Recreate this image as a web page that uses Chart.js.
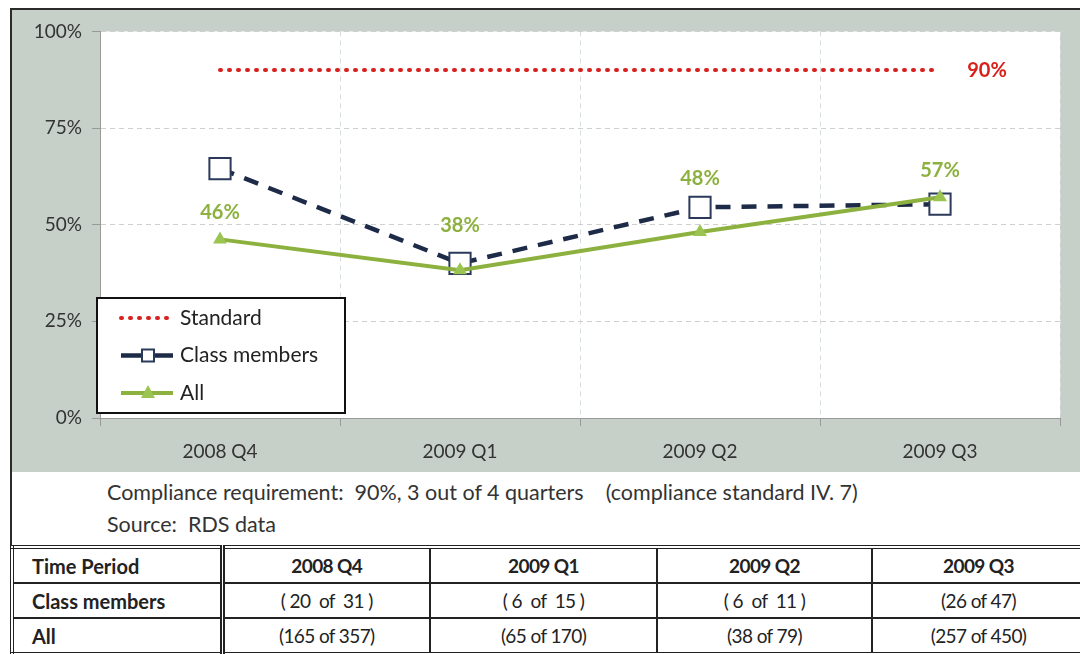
<!DOCTYPE html>
<html>
<head>
<meta charset="utf-8">
<script src="https://cdn.jsdelivr.net/npm/chart.js@4.4.0/dist/chart.umd.min.js"></script>
<style>
html, body { margin:0; padding:0; background:#fff; width:1080px; height:654px; overflow:hidden; font-family: Lato, "Open Sans", sans-serif; color:#222; }
#chartBox { position:absolute; left:10px; top:8px; width:1068px; height:462px; border:2px solid #2b2b2b; background:#c6d0c8; }
#chartWrap { position:relative; width:1068px; height:462px; }
#notes { position:absolute; left:10px; top:472px; width:1080px; height:73px; border-left:2px solid #2b2b2b; background:#fff; }
#notes div { position:absolute; left:95px; font-size:21.5px; color:#333; white-space:pre; }
#tbl { position:absolute; left:10px; top:545px; width:1078px; border-collapse:collapse; border:4px double #222; font-size:19px; letter-spacing:-0.6px; table-layout:fixed; }
#tbl td { border:2px solid #222; height:33px; padding:0; text-align:center; color:#222; white-space:pre; }
#tbl td.first { text-align:left; padding-left:18px; font-weight:bold; font-size:20px; letter-spacing:0; border-right:5px double #222; }
#tbl tr.head td { font-weight:bold; }
</style>
</head>
<body>
<div id="chartBox"><div id="chartWrap"><canvas id="myChart"></canvas></div></div>
<div id="notes">
  <div id="note1" style="top:7px"></div>
  <div id="note2" style="top:39px"></div>
</div>
<table id="tbl">
  <colgroup><col style="width:210px"><col style="width:208px"><col style="width:227px"><col style="width:215px"><col></colgroup>
  <tbody id="tbody"></tbody>
</table>
<script>
// chart data
const quarters = ['2008 Q4', '2009 Q1', '2009 Q2', '2009 Q3'];
const standardPct = [90, 90, 90, 90];
const classPct = [64.5, 40, 54.5, 55.3];
const allPct = [46.2, 38.2, 48.1, 57.1];
const yTicks = [0, 25, 50, 75, 100];

// table below the chart
const classCounts = ['( 20  of  31 )', '( 6  of  15 )', '( 6  of  11 )', '(26 of 47)'];
const allCounts = ['(165 of 357)', '(65 of 170)', '(38 of 79)', '(257 of 450)'];
const noteLines = ['Compliance requirement:  90%, 3 out of 4 quarters    (compliance standard IV. 7)', 'Source:  RDS data'];

document.getElementById('note1').textContent = noteLines[0];
document.getElementById('note2').textContent = noteLines[1];

function row(cls, first, cells) {
  let html = '<tr class="' + cls + '"><td class="first">' + first + '</td>';
  cells.forEach(c => { html += '<td>' + c + '</td>'; });
  return html + '</tr>';
}
document.getElementById('tbody').innerHTML =
  row('head', 'Time Period', quarters) +
  row('', 'Class members', classCounts) +
  row('', 'All', allCounts);

const FONT = 'Lato, "Open Sans", sans-serif';
const green = '#8db13f';
const navy = '#1d2b48';
const red = '#d8201c';

// white plot area on the gray chart background
const plotBg = {
  id: 'plotBg',
  beforeDraw(chart) {
    const a = chart.chartArea, ctx = chart.ctx;
    ctx.save();
    ctx.fillStyle = '#fff';
    ctx.fillRect(a.left, a.top, a.right - a.left, a.bottom - a.top);
    ctx.restore();
  }
};

// value labels for "All" and the standard
const pointLabels = {
  id: 'pointLabels',
  afterDatasetsDraw(chart, args, opts) {
    const ctx = chart.ctx;
    ctx.save();
    ctx.font = 'bold 20px ' + FONT;
    ctx.textAlign = 'center';
    ctx.textBaseline = 'middle';
    ctx.fillStyle = green;
    chart.getDatasetMeta(2).data.forEach((pt, i) => {
      ctx.fillText(Math.round(allPct[i]) + '%', pt.x, pt.y - opts.rise[i]);
    });
    const sm = chart.getDatasetMeta(0).data;
    const last = sm[sm.length - 1];
    ctx.fillStyle = red;
    ctx.fillText(standardPct[standardPct.length - 1] + '%', last.x + 47, last.y);
    ctx.restore();
  }
};

// boxed legend in the lower left corner of the plot
const legendBox = {
  id: 'legendBox',
  afterDraw(chart) {
    const ctx = chart.ctx, a = chart.chartArea;
    const x = a.left - 3, y = a.bottom - 120, w = 248, h = 115;
    ctx.save();
    ctx.fillStyle = '#fff';
    ctx.fillRect(x, y, w, h);
    ctx.lineWidth = 2;
    ctx.strokeStyle = '#111';
    ctx.strokeRect(x, y, w, h);
    chart.data.datasets.forEach((ds, i) => {
      const cy = y + 20 + i * 37.5;
      ctx.save();
      ctx.strokeStyle = ds.borderColor;
      ctx.lineWidth = ds.borderWidth;
      ctx.lineCap = ds.borderCapStyle || 'butt';
      ctx.setLineDash(i === 0 ? ds.borderDash : []);
      ctx.beginPath();
      ctx.moveTo(x + 24, cy);
      ctx.lineTo(x + 76, cy);
      ctx.stroke();
      ctx.restore();
      const mx = x + 51;
      if (ds.pointStyle === 'rect') {
        ctx.fillStyle = '#fff';
        ctx.strokeStyle = ds.pointBorderColor;
        ctx.lineWidth = 2;
        ctx.fillRect(mx - 6, cy - 6, 12, 12);
        ctx.strokeRect(mx - 6, cy - 6, 12, 12);
      } else if (ds.pointStyle === 'triangle') {
        ctx.fillStyle = ds.pointBackgroundColor;
        ctx.beginPath();
        ctx.moveTo(mx, cy - 8);
        ctx.lineTo(mx + 7, cy + 5);
        ctx.lineTo(mx - 7, cy + 5);
        ctx.closePath();
        ctx.fill();
      }
      ctx.fillStyle = '#222';
      ctx.font = '21px ' + FONT;
      ctx.textAlign = 'left';
      ctx.textBaseline = 'middle';
      ctx.fillText(ds.label, x + 83, cy);
    });
    ctx.restore();
  }
};

const ctx = document.getElementById('myChart').getContext('2d');
const chart = new Chart(ctx, {
  type: 'line',
  data: {
    labels: quarters,
    datasets: [{
      label: 'Standard',
      data: standardPct,
      borderColor: red,
      borderWidth: 4,
      borderDash: [1, 8],
      borderCapStyle: 'round',
      pointRadius: 0,
      order: 2
    }, {
      label: 'Class members',
      data: classPct,
      borderColor: navy,
      borderWidth: 4.5,
      borderDash: [15, 11],
      pointStyle: 'rect',
      pointRadius: 15,
      pointBorderWidth: 2,
      pointBorderColor: '#2b3a5a',
      pointBackgroundColor: '#fff',
      order: 1
    }, {
      label: 'All',
      data: allPct,
      borderColor: green,
      borderWidth: 4,
      pointStyle: 'triangle',
      pointRadius: 8,
      pointBorderWidth: 0,
      pointBackgroundColor: '#9bc450',
      pointBorderColor: '#9bc450',
      order: 0
    }]
  },
  options: {
    responsive: true,
    maintainAspectRatio: false,
    animation: false,
    layout: { padding: { left: 0, right: 20, top: 16, bottom: 0 } },
    plugins: {
      legend: { display: false },
      tooltip: { enabled: false },
      pointLabels: { rise: [27, 45, 53, 27] }
    },
    scales: {
      x: {
        offset: true,
        grid: { offset: true, color: '#d3dde2', tickLength: 8, tickColor: '#999' },
        border: { display: true, color: '#999', width: 1, dash: [5, 4] },
        ticks: { color: '#333', font: { family: FONT, size: 19 }, padding: 14, maxRotation: 0 },
        afterFit(scale) { scale.height = 54; }
      },
      y: {
        min: 0,
        max: 100,
        afterBuildTicks(scale) { scale.ticks = yTicks.map(v => ({ value: v })); },
        grid: { color: '#cfcfcf', tickLength: 8, tickColor: '#999' },
        border: { display: true, color: '#999', width: 1, dash: [5, 4] },
        ticks: { color: '#333', font: { family: FONT, size: 19 }, padding: 10, callback: v => v + '%' },
        afterFit(scale) { scale.width = 88; }
      }
    }
  },
  plugins: [plotBg, pointLabels, legendBox]
});
</script>
</body>
</html>
